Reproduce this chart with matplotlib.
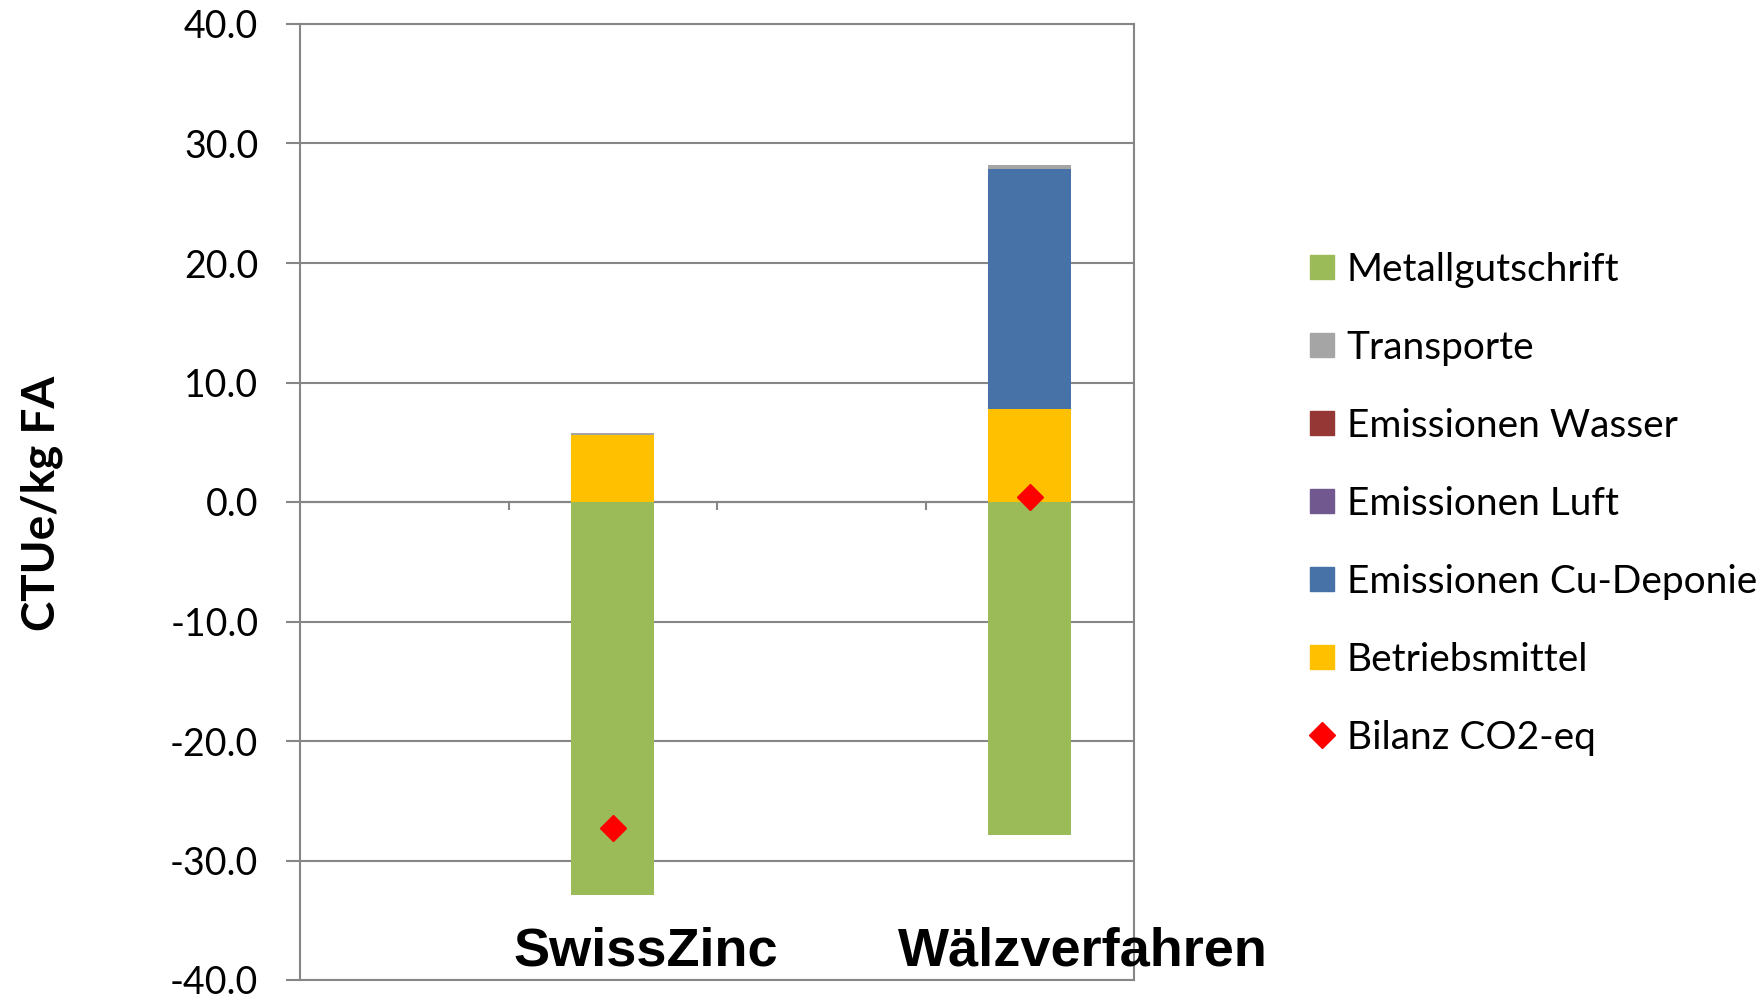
import numpy as np
import matplotlib
matplotlib.use("Agg")
import matplotlib.pyplot as plt
from matplotlib.lines import Line2D

# ---- data ----
categories = ["", "SwissZinc", "", "Wälzverfahren"]
betriebsmittel = [0.0, 5.6, 0.0, 7.75]
cu_deponie = [0.0, 0.0, 0.0, 20.1]
emis_luft = [0.0, 0.0, 0.0, 0.0]
emis_wasser = [0.0, 0.0, 0.0, 0.0]
transporte = [0.0, 0.15, 0.0, 0.35]
metallgutschrift = [0.0, -32.9, 0.0, -27.85]
bilanz = [np.nan, -27.3, np.nan, 0.4]

series_names = ["Betriebsmittel", "Emissionen Cu-Deponie", "Emissionen Luft",
                "Emissionen Wasser", "Transporte"]
series_vals = [betriebsmittel, cu_deponie, emis_luft, emis_wasser, transporte]
series_cols = ["#FFC000", "#4672A8", "#71588F", "#953735", "#A5A5A5"]
neg_name, neg_col = "Metallgutschrift", "#9BBB59"
bil_name, bil_col = "Bilanz CO2-eq", "#FF0000"
yticks = np.arange(-40, 41, 10)
ylabel = "CTUe/kg FA"

W, H, DPI = 1763, 994, 100
fig = plt.figure(figsize=(W / DPI, H / DPI), dpi=DPI)
ax = fig.add_axes([300 / W, 1 - 980 / H, (1134 - 300) / W, (980 - 24) / H])

x = np.arange(len(categories))
bw = 0.40
bottom = np.zeros(len(categories))
for name, vals, col in zip(series_names, series_vals, series_cols):
    v = np.array(vals)
    ax.bar(x, v, bw, bottom=bottom, color=col, zorder=3, linewidth=0)
    bottom += v
ax.bar(x, metallgutschrift, bw, color=neg_col, zorder=3, linewidth=0)
ax.plot(x, bilanz, linestyle="none", marker="D", markersize=13,
        color=bil_col, zorder=5)

gray = "#868686"
ax.set_xlim(-0.5, len(categories) - 0.5)
ax.set_ylim(-40, 40)
ax.set_yticks(yticks)
ax.set_yticklabels([f"{v:.1f}" for v in yticks], fontfamily="Lato", fontsize=27)
ax.yaxis.grid(True, color=gray, linewidth=1.5, zorder=0)
ax.set_axisbelow(True)
ax.tick_params(axis="y", direction="out", length=10, width=1.5, color=gray, pad=20)

# category axis at zero with separator ticks
ax.spines["bottom"].set_position(("data", 0))
ax.set_xticks(x[:-1] + 0.5)
ax.set_xticklabels([])
ax.tick_params(axis="x", direction="out", length=6, width=1.5, color=gray)
for s in ax.spines.values():
    s.set_color(gray)
    s.set_linewidth(1.5)
ax.axhline(-40, color=gray, linewidth=1.5, clip_on=False)

# category labels
label_x = [1.16, 3.255]
for lx, name in zip(label_x, [c for c in categories if c]):
    ax.text(lx, -38.76, name, ha="center", va="baseline", fontsize=39,
            fontweight="bold", fontfamily="Liberation Sans", clip_on=False, zorder=6)

fig.text(42 / W, 1 - 503.5 / H, ylabel, rotation=90, ha="center", va="center",
         fontsize=33, fontweight="bold", fontfamily="Lato")

# legend (Excel order)
leg_names = [neg_name] + series_names[::-1] + [bil_name]
leg_cols = [neg_col] + series_cols[::-1] + [bil_col]
handles = []
for n, c in zip(leg_names, leg_cols):
    if n == bil_name:
        handles.append(Line2D([], [], linestyle="none", marker="D", markersize=13,
                              color=c, label=n))
    else:
        handles.append(Line2D([], [], linestyle="none", marker="s", markersize=17,
                              color=c, label=n))
fig.legend(handles=handles, loc="center left", bbox_to_anchor=(1306 / W, 1 - 504 / H),
           frameon=False, prop={"family": "Lato", "size": 28}, handlelength=0.8,
           handletextpad=0.25, labelspacing=1.08, borderpad=0, borderaxespad=0)

fig.savefig("out.png", dpi=DPI)
